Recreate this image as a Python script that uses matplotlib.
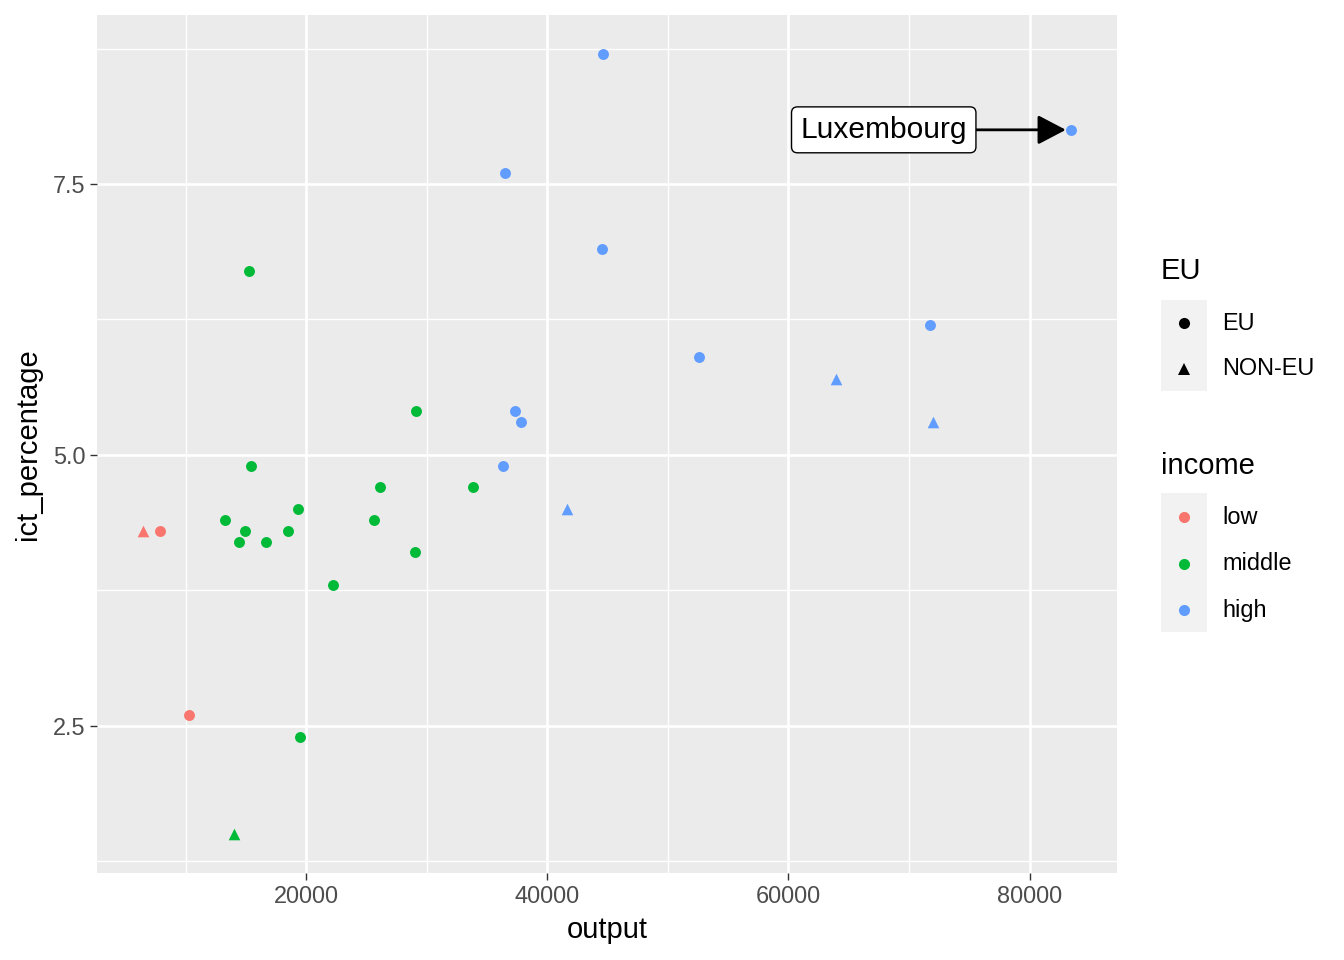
import numpy as np
import matplotlib
matplotlib.use('Agg')
import matplotlib.pyplot as plt
from matplotlib.patches import Rectangle
from matplotlib.lines import Line2D

plt.rcParams['font.family'] = ['Liberation Sans', 'DejaVu Sans']

# data
output = [6500, 7900, 10300,
          15300, 15400, 13300, 14900, 14400, 16700, 18500, 19300, 22200, 19500,
          14000, 25600, 26100, 29100, 29000, 33800,
          44600, 36500, 44500, 83400, 71700, 52600, 63900, 72000, 37300, 37800,
          36300, 41600]
ict = [4.3, 4.3, 2.6,
       6.7, 4.9, 4.4, 4.3, 4.2, 4.2, 4.3, 4.5, 3.8, 2.4,
       1.5, 4.4, 4.7, 5.4, 4.1, 4.7,
       8.7, 7.6, 6.9, 8.0, 6.2, 5.9, 5.7, 5.3, 5.4, 5.3,
       4.9, 4.5]
income = (['low'] * 3 + ['middle'] * 16 + ['high'] * 12)
eu = ['NON-EU', 'EU', 'EU',
      'EU', 'EU', 'EU', 'EU', 'EU', 'EU', 'EU', 'EU', 'EU', 'EU',
      'NON-EU', 'EU', 'EU', 'EU', 'EU', 'EU',
      'EU', 'EU', 'EU', 'EU', 'EU', 'EU', 'NON-EU', 'NON-EU', 'EU', 'EU',
      'EU', 'NON-EU']

income_levels = ['low', 'middle', 'high']
income_colors = {'low': '#F8766D', 'middle': '#00BA38', 'high': '#619CFF'}
eu_levels = ['EU', 'NON-EU']
eu_markers = {'EU': 'o', 'NON-EU': '^'}

W, H = 1344, 960
fig = plt.figure(figsize=(W / 100, H / 100), dpi=100)
ax = fig.add_axes([97 / W, 1 - 873 / H, (1117 - 97) / W, (873 - 15) / H])
ax.set_facecolor('#EBEBEB')

output = np.array(output)
ict = np.array(ict)
income = np.array(income)
eu = np.array(eu)
for inc in income_levels:
    for e in eu_levels:
        m = (income == inc) & (eu == e)
        if m.any():
            ax.scatter(output[m], ict[m], s=62 if e == 'EU' else 70,
                       marker=eu_markers[e], color=income_colors[inc],
                       linewidths=0, zorder=3)

xr = output.max() - output.min()
yr = ict.max() - ict.min()
ax.set_xlim(output.min() - 0.05 * xr, output.max() + 0.05 * xr)
ax.set_ylim(ict.min() - 0.05 * yr, ict.max() + 0.05 * yr)

ax.set_xticks([20000, 40000, 60000, 80000])
ax.set_xticks([10000, 30000, 50000, 70000], minor=True)
ax.set_yticks([2.5, 5.0, 7.5])
ax.set_yticklabels(['2.5', '5.0', '7.5'])
ax.set_yticks([1.25, 3.75, 6.25, 8.75], minor=True)
ax.grid(which='major', color='white', linewidth=1.9)
ax.grid(which='minor', color='white', linewidth=0.95)
ax.set_axisbelow(True)
for s in ax.spines.values():
    s.set_visible(False)
ax.tick_params(which='major', length=5.3, width=1.0, color='#333333',
               labelsize=16.9, labelcolor='#4D4D4D', pad=3)
ax.tick_params(which='minor', length=0)
ax.set_xlabel('output', fontsize=21, labelpad=6)
ax.set_ylabel('ict_percentage', fontsize=21, labelpad=8)

ax.annotate('Luxembourg', xy=(83000, 8.0), xytext=(67900, 8.0),
            ha='center', va='center', fontsize=21.5,
            bbox=dict(boxstyle='round,pad=0.3,rounding_size=0.2', fc='white', ec='black', lw=1.0),
            arrowprops=dict(arrowstyle='-|>,head_length=0.8,head_width=0.42',
                            color='black', lw=2.0, shrinkA=0, shrinkB=0),
            zorder=4)


# legends drawn in figure pixel coords
def fx(px):
    return px / W


def fy(py):
    return 1 - py / H


fig.text(fx(1161), fy(271), 'EU', fontsize=21, va='center', ha='left')
fig.add_artist(Rectangle((fx(1161), fy(391)), fx(46), (391 - 300) / H,
                         transform=fig.transFigure, fc='#F2F2F2', ec='none'))
for i, e in enumerate(eu_levels):
    yy = 323 + i * 45.5
    fig.add_artist(Line2D([fx(1184)], [fy(yy)], marker=eu_markers[e], color='black',
                          markersize=8 if e == 'EU' else 9, linestyle='none',
                          markeredgewidth=0, transform=fig.transFigure))
    fig.text(fx(1222), fy(yy), e, fontsize=16.9, va='center', ha='left')

fig.text(fx(1161), fy(466), 'income', fontsize=21, va='center', ha='left')
fig.add_artist(Rectangle((fx(1161), fy(632)), fx(46), (632 - 493) / H,
                         transform=fig.transFigure, fc='#F2F2F2', ec='none'))
for i, inc in enumerate(income_levels):
    yy = 517 + i * 46.5
    fig.add_artist(Line2D([fx(1184)], [fy(yy)], marker='o', color=income_colors[inc],
                          markersize=8, linestyle='none', markeredgewidth=0,
                          transform=fig.transFigure))
    fig.text(fx(1222), fy(yy), inc, fontsize=16.9, va='center', ha='left')

fig.savefig('out.png', dpi=100)
